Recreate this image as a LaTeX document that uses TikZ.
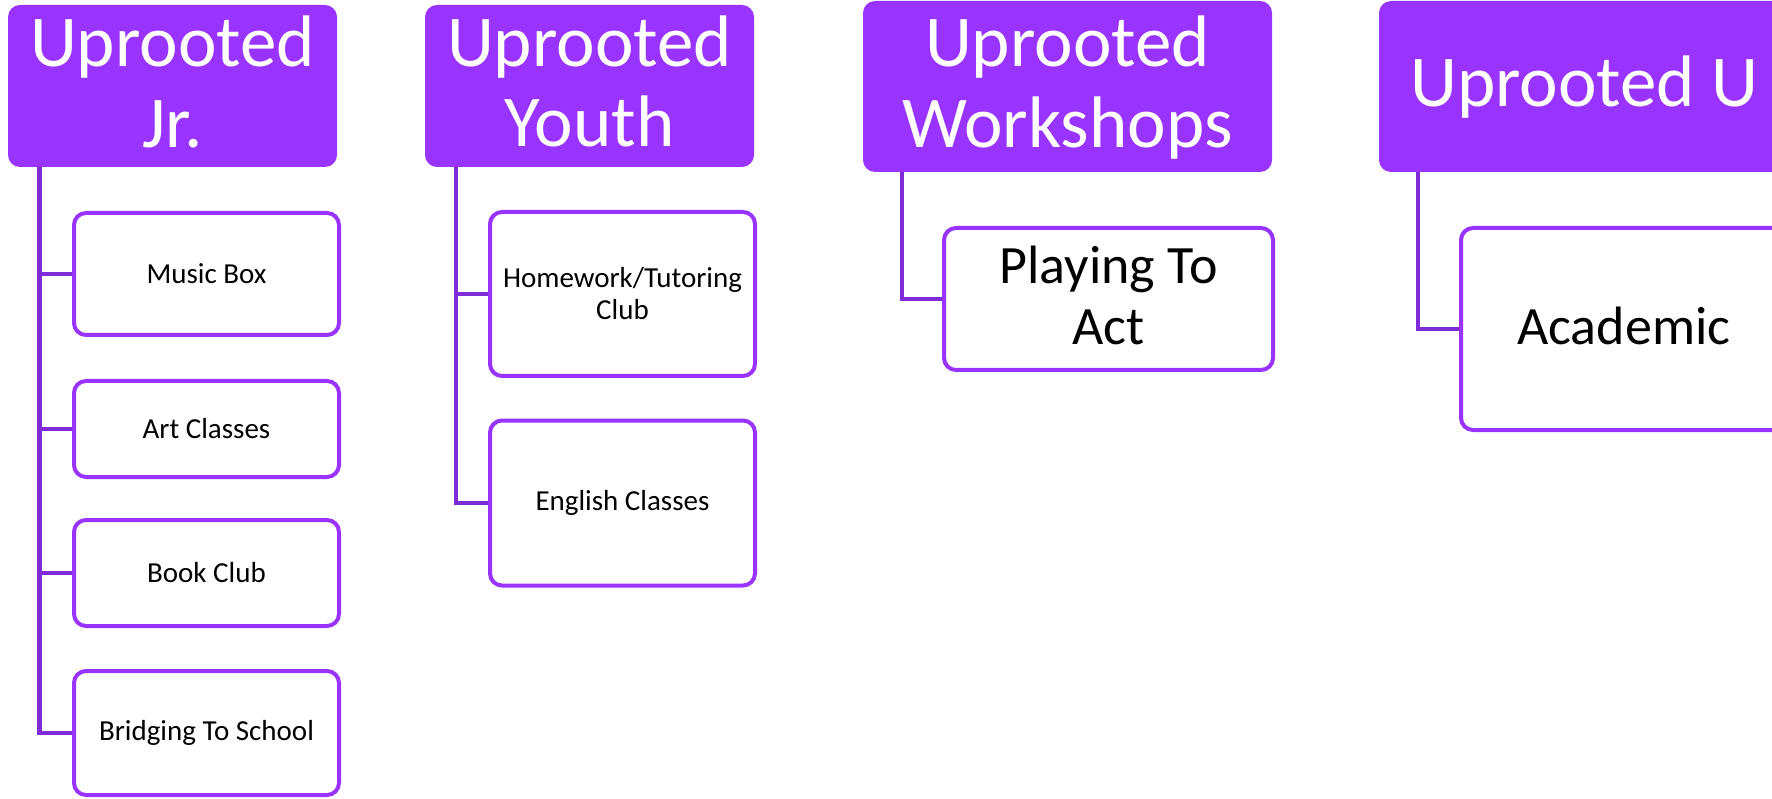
\documentclass[tikz,border=0pt]{standalone}
\usepackage{fontspec}
\setmainfont{Carlito}
\definecolor{hdr}{HTML}{9933FF}
\definecolor{lnk}{HTML}{7F2BD9}
\begin{document}
\begin{tikzpicture}[x=1pt,y=-1pt,
  hdrbox/.style={draw=none, fill=hdr, rounded corners=12pt, inner sep=0pt},
  hdrtext/.style={text=white, font=\fontsize{73}{80}\selectfont, inner sep=0pt, anchor=base},
  childbox/.style={draw=hdr, line width=4pt, fill=white, rounded corners=12pt, align=center, inner sep=0pt, font=\fontsize{29}{32}\selectfont},
  bigtext/.style={font=\fontsize{54}{61}\selectfont, inner sep=0pt, anchor=base},
  conn/.style={draw=lnk, line width=4.5pt}]
\useasboundingbox (0,0) rectangle (1772,799);
\clip (0,0) rectangle (1772,799);
% headers
\node[hdrbox, minimum width=329pt, minimum height=162pt] (h1) at (172.5,86) {};
\node[hdrbox, minimum width=329pt, minimum height=162pt] (h2) at (589.5,86) {};
\node[hdrbox, minimum width=409pt, minimum height=171pt] (h3) at (1067.5,86.5) {};
\node[hdrbox, minimum width=471pt, minimum height=171pt] (h4) at (1614.5,86.5) {};
\node[hdrtext] (h1a) at (172.5,67) {Uprooted};
\node[hdrtext] (h1b) at (172.5,148) {Jr.};
\node[hdrtext] (h2a) at (589.5,67) {Uprooted};
\node[hdrtext] (h2b) at (589.5,147) {Youth};
\node[hdrtext] (h3a) at (1067.5,67) {Uprooted};
\node[hdrtext] (h3b) at (1067.5,148) {Workshops};
\node[hdrtext, anchor=base west] (h4a) at (1410,107) {Uprooted U};
% children
\node[childbox, minimum width=265pt, minimum height=122pt] (c11) at (206.5,274) {Music Box};
\node[childbox, minimum width=265pt, minimum height=96pt] (c12) at (206.5,429) {Art Classes};
\node[childbox, minimum width=265pt, minimum height=106pt] (c13) at (206.5,573) {Book Club};
\node[childbox, minimum width=265pt, minimum height=124pt] (c14) at (206.5,733) {Bridging To School};
\node[childbox, minimum width=265pt, minimum height=164pt] (c21) at (622.5,294) {Homework/Tutoring\\Club};
\node[childbox, minimum width=265pt, minimum height=165pt] (c22) at (622.5,503) {English Classes};
\node[childbox, minimum width=329pt, minimum height=142pt] (c31) at (1108.5,299) {};
\node[bigtext] (c31a) at (1108.5,284) {Playing To};
\node[bigtext] (c31b) at (1108.5,345) {Act};
\node[childbox, minimum width=389pt, minimum height=202pt] (c41) at (1655.5,329) {};
\node[bigtext, anchor=base west] (c41a) at (1517,345) {Academic};
% connectors
\coordinate (j1) at (39.5,167);
\coordinate (j2) at (456,167);
\coordinate (j3) at (902,172);
\coordinate (j4) at (1418,172);
\draw[conn] (j1) |- (c11.west);
\draw[conn] (j1) |- (c12.west);
\draw[conn] (j1) |- (c13.west);
\draw[conn] (j1) |- (c14.west);
\draw[conn] (j2) |- (c21.west);
\draw[conn] (j2) |- (c22.west);
\draw[conn] (j3) |- (c31.west);
\draw[conn] (j4) |- (c41.west);
\end{tikzpicture}
\end{document}
